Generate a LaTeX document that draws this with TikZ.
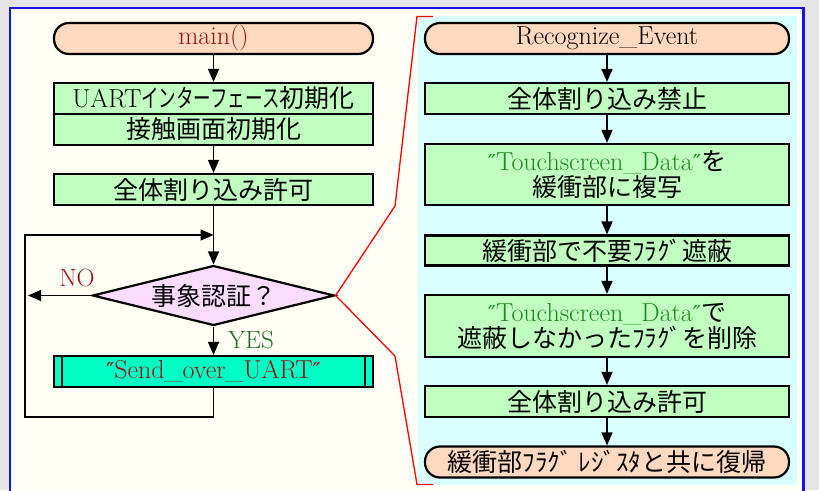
\documentclass[tikz,border=0pt]{standalone}
\usepackage{fontspec}
\usetikzlibrary{arrows.meta,shapes.geometric}
\newfontfamily\cjk{Noto Sans CJK JP}
\newfontfamily\cjkn[FakeStretch=0.7]{Noto Sans CJK JP}
\newfontfamily\qfont{DejaVu Serif}
\newcommand\jtxt[1]{{\cjk #1}}
\newcommand\la[1]{{\fontsize{26}{28}\selectfont #1}}
\newcommand\dq{{\qfont\fontsize{22}{28}\selectfont ″}}
\definecolor{bggray}{RGB}{229,229,229}
\definecolor{ivory}{RGB}{255,255,246}
\definecolor{panelcyan}{RGB}{218,255,255}
\definecolor{frameblue}{RGB}{20,20,230}
\definecolor{termpeach}{RGB}{255,216,192}
\definecolor{procgreen}{RGB}{192,255,192}
\definecolor{subaqua}{RGB}{0,255,196}
\definecolor{decpink}{RGB}{250,220,255}
\definecolor{darkred}{RGB}{150,20,20}
\definecolor{tgreen}{RGB}{30,135,30}
\definecolor{ygreen}{RGB}{30,110,30}
\begin{document}
\begin{tikzpicture}[x=1pt,y=-1pt,
  txt/.style={font=\fontsize{25}{28}\selectfont},
  box/.style={txt, draw, line width=2.2pt, inner sep=0pt, align=center, text=black},
  procL/.style={box, fill=procgreen, minimum width=319pt, minimum height=31pt},
  procR/.style={box, fill=procgreen, minimum width=364pt, minimum height=31pt},
  termL/.style={procL, fill=termpeach, rounded corners=15pt},
  termR/.style={procR, fill=termpeach, rounded corners=15pt},
  conn/.style={line width=1.5pt, black},
  arr/.style={conn, -{Triangle[length=13pt,width=11pt]}},
  zoomline/.style={red, line width=1.3pt}
]
\useasboundingbox (0,0) rectangle (819,490);
\fill[bggray] (0,0) rectangle (819,490);
\fill[ivory] (10,8) rectangle (803.5,520);
\fill[panelcyan] (418,16) rectangle (797,485);
\draw[frameblue, line width=2.5pt] (10,520) -- (10,8) -- (803.5,8) -- (803.5,520);

% left column
\node[termL, text=darkred] (main) at (213.5,38.5) {\la{main()}};
\node[procL] (uart) at (213.5,98.5) {\la{UART}{\cjkn インターフェース}\jtxt{初期化}};
\node[procL] (touch) at (213.5,129.5) {\jtxt{接触画面初期化}};
\node[procL] (ei) at (213.5,189.5) {\jtxt{全体割り込み許可}};
\node[box, shape=diamond, aspect=4.03, fill=decpink, minimum width=242pt, minimum height=60pt] (dec) at (213.5,295.5) {\jtxt{事象認証？}};
\node[procL, fill=subaqua, text=darkred] (send) at (213.5,371.5) {\dq\la{Send\_over\_UART}\dq};
\draw[line width=1.5pt] ([xshift=9pt]send.north west) -- ([xshift=9pt]send.south west);
\draw[line width=1.5pt] ([xshift=-9pt]send.north east) -- ([xshift=-9pt]send.south east);

\coordinate (join) at (213.5,235);
\coordinate (nout) at (28,295.5);
\coordinate (lb) at (213.5,417);
\coordinate (ll) at (25,417);
\coordinate (lt) at (25,235);

\draw[arr] (main) -- (uart);
\draw[arr] (touch) -- (ei);
\draw[arr] (ei) -- (dec);
\draw[arr] (dec) -- (send);
\draw[arr] (dec.west) -- (nout);
\draw[arr] (send.south) -- (lb) -- (ll) -- (lt) -- (join);

\node[txt, text=darkred] (no) at (77,278) {NO};
\node[txt, text=ygreen] (yes) at (251,340) {YES};

% right column
\node[termR] (rec) at (607,38.5) {\la{Recognize\_Event}};
\node[procR] (di) at (607,98.5) {\jtxt{全体割り込み禁止}};
\node[procR, minimum height=61pt] (copy) at (607,174.5) {{\color{tgreen}\dq\la{Touchscreen\_Data}\dq}\jtxt{を}\\[-2pt]\jtxt{緩衝部に複写}};
\node[procR, minimum height=30pt] (mask) at (607,250.5) {\jtxt{緩衝部で不要ﾌﾗｸﾞ遮蔽}};
\node[procR, minimum height=62pt] (del) at (607,326) {{\color{tgreen}\dq\la{Touchscreen\_Data}\dq}\jtxt{で}\\[-2pt]\jtxt{遮蔽しなかったﾌﾗｸﾞを削除}};
\node[procR] (en) at (607,401.5) {\jtxt{全体割り込み許可}};
\node[termR] (ret) at (607,462) {\jtxt{緩衝部ﾌﾗｸﾞ ﾚｼﾞｽﾀと共に復帰}};

\draw[arr] (rec) -- (di);
\draw[arr] (di) -- (copy);
\draw[arr] (copy) -- (mask);
\draw[arr] (mask) -- (del);
\draw[arr] (del) -- (en);
\draw[arr] (en) -- (ret);

% zoom lines
\coordinate (zt1) at (433,16.5);
\coordinate (zt2) at (417,16.5);
\coordinate (zt3) at (395,206);
\coordinate (zb1) at (395,356);
\coordinate (zb2) at (417,484.5);
\coordinate (zb3) at (433,484.5);
\draw[zoomline] (zt1) -- (zt2) -- (zt3) -- (dec.east) -- (zb1) -- (zb2) -- (zb3);
\end{tikzpicture}
\end{document}
